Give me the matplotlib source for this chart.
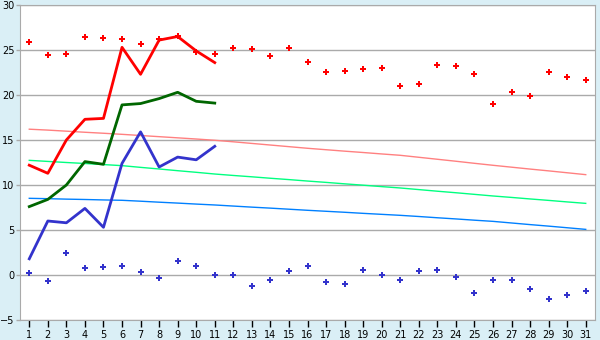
import matplotlib
matplotlib.use("Agg")
import matplotlib.pyplot as plt
import numpy as np

# Datos
dias = list(range(1, 32))
dias_linea = list(range(1, 12))

rojo_linea = [12.2, 11.3, 15.0, 17.3, 17.4, 25.3, 22.3, 26.1, 26.5, 24.9, 23.6]
verde_linea = [7.6, 8.4, 10.0, 12.6, 12.3, 18.9, 19.05, 19.6, 20.3, 19.3, 19.1]
azul_linea = [1.8, 6.0, 5.8, 7.4, 5.3, 12.4, 15.9, 12.0, 13.1, 12.8, 14.3]

rojo_puntos = [25.85, 24.4, 24.55, 26.4, 26.3, 26.2, 25.7, 26.2, 26.6, 24.8,
               24.6, 25.2, 25.1, 24.3, 25.2, 23.7, 22.6, 22.7, 22.85, 22.95,
               20.95, 21.2, 23.3, 23.2, 22.3, 18.95, 20.3, 19.85, 22.6, 21.95, 21.7]
azul_puntos = [0.2, -0.65, 2.5, 0.75, 0.85, 0.95, 0.3, -0.35, 1.6, 0.95,
               0.05, -0.05, -1.25, -0.5, 0.4, 0.95, -0.8, -0.95, 0.6, 0.05,
               -0.6, 0.4, 0.6, -0.25, -2.05, -0.5, -0.5, -1.6, -2.7, -2.25, -1.8]

tend_rosa = [16.2, 16.1, 15.98, 15.86, 15.75, 15.63, 15.5, 15.37, 15.24, 15.11,
             14.97, 14.8, 14.62, 14.44, 14.26, 14.08, 13.92, 13.76, 13.61, 13.45,
             13.3, 13.08, 12.86, 12.64, 12.41, 12.19, 11.98, 11.77, 11.57, 11.36, 11.15]
tend_verde = [12.74, 12.62, 12.5, 12.39, 12.27, 12.15, 11.96, 11.78, 11.59, 11.41,
              11.22, 11.06, 10.91, 10.75, 10.6, 10.44, 10.29, 10.13, 9.98, 9.82,
              9.67, 9.49, 9.31, 9.14, 8.96, 8.78, 8.62, 8.45, 8.29, 8.12, 7.96]
tend_azul = [8.52, 8.48, 8.43, 8.39, 8.34, 8.3, 8.2, 8.09, 7.99, 7.88,
             7.78, 7.66, 7.54, 7.43, 7.31, 7.19, 7.08, 6.97, 6.85, 6.74,
             6.63, 6.5, 6.36, 6.23, 6.09, 5.96, 5.78, 5.6, 5.43, 5.25, 5.07]

fondo = '#daeff6'
gris = '#aaaaaa'

fig = plt.figure(figsize=(6, 3.4), dpi=100, facecolor=fondo)
ax = fig.add_axes([20/600, 20/340, 575/600, 315/340])
ax.set_facecolor('white')

# tendencias
ax.plot(dias, tend_rosa, color='#ff8080', lw=1)
ax.plot(dias, tend_verde, color='#00ff80', lw=1)
ax.plot(dias, tend_azul, color='#0080ff', lw=1)

# lineas
ax.plot(dias_linea, rojo_linea, color='#ff0000', lw=2)
ax.plot(dias_linea, verde_linea, color='#006600', lw=2)
ax.plot(dias_linea, azul_linea, color='#3333cc', lw=2)

# puntos
ax.plot(dias, rojo_puntos, ls='none', marker='P', ms=4.2, color='#ff0000', mew=0)
ax.plot(dias, azul_puntos, ls='none', marker='P', ms=4.2, color='#3333cc', mew=0)

ax.set_xlim(0.5, 31.5)
ax.set_ylim(-5, 30)
ax.set_xticks(dias)
ax.set_yticks(np.arange(-5, 31, 5))
ax.yaxis.grid(True, color=gris, lw=1)
ax.set_axisbelow(True)
for s in ax.spines.values():
    s.set_color(gris)
ax.tick_params(axis='both', colors='black', labelsize=7, width=1)
ax.tick_params(axis='y', color=gris, length=3, pad=1)
ax.tick_params(axis='x', color='black', length=5, pad=2)

fig.savefig('out.png', dpi=100, facecolor=fondo)
